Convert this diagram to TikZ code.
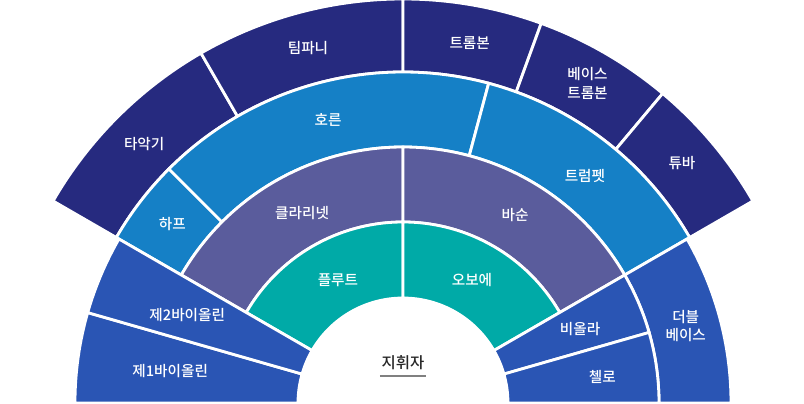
\documentclass[tikz,border=0pt]{standalone}
\usepackage{fontspec}
\setmainfont{Noto Sans CJK KR}
\newfontfamily\medfont{Noto Sans CJK KR Medium}
\definecolor{navy}{RGB}{38,42,127}
\definecolor{brass}{RGB}{21,128,198}
\definecolor{reed}{RGB}{90,92,156}
\definecolor{wind}{RGB}{0,170,167}
\definecolor{strg}{RGB}{42,85,180}
\begin{document}
\begin{tikzpicture}[x=0.025cm,y=0.025cm,seat/.style={draw=white,line width=2pt},lab/.style={text=white,font=\medfont\fontsize{10.4}{13}\selectfont,align=center},boss/.style={text=black!85,font=\medfont\fontsize{11}{12}\selectfont,inner sep=1pt}]
\def\ra{105};
\def\rb{181};
\def\rc{256};
\def\rd{331};
\def\rs{328};
\def\re{404};
\def\sect#1#2#3#4#5{\path[seat,fill=#1] (#2:#4) arc[start angle=#2,end angle=#3,radius=#4] -- (#3:#5) arc[start angle=#3,end angle=#2,radius=#5] -- cycle;}

\useasboundingbox (-403,0) rectangle (401,403);

% outer ring
\sect{navy}{150}{120}{\rd}{\re}
\sect{navy}{120}{90}{\rd}{\re}
\sect{navy}{90}{70}{\rd}{\re}
\sect{navy}{70}{50}{\rd}{\re}
\sect{navy}{50}{30}{\rd}{\re}

% brass ring
\sect{brass}{150}{135}{\rc}{\rd}
\sect{brass}{135}{75}{\rc}{\rd}
\sect{brass}{75}{30}{\rc}{\rd}
\sect{strg}{30}{0}{\rc}{\rs}

% reeds
\sect{reed}{150}{90}{\rb}{\rc}
\sect{reed}{90}{30}{\rb}{\rc}

% flutes
\sect{wind}{150}{90}{\ra}{\rb}
\sect{wind}{90}{30}{\ra}{\rb}

% strings
\sect{strg}{180}{164}{\ra}{\rs}
\sect{strg}{164}{150}{\ra}{\rs}
\sect{strg}{30}{16}{\ra}{\rc}
\sect{strg}{16}{0}{\ra}{\rc}

\node[lab] (perc) at (135:366) {타악기};
\node[lab] (timp) at (105:367) {팀파니};
\node[lab] (tromb) at (79.5:366) {트롬본};
\node[lab] (btromb) at (60:369) {베이스\\트롬본};
\node[lab] (tuba) at (40.7:368) {튜바};

\node[lab] (harp) at (142.2:292) {하프};
\node[lab] (horn) at (104.8:293) {호른};
\node[lab] (trump) at (51.3:291) {트럼펫};
\node[lab] (dbass) at (15.2:293) {더블\\베이스};

\node[lab] (clar) at (118:215) {클라리넷};
\node[lab] (bass) at (59.2:219) {바순};
\node[lab] (flute) at (117.9:139) {플루트};
\node[lab] (oboe) at (60.7:141) {오보에};

\node[lab] (vlnb) at (157.8:233) {제2바이올린};
\node[lab] (vlna) at (172.2:235) {제1바이올린};
\node[lab] (viola) at (22.7:192) {비올라};
\node[lab] (cello) at (7.4:201) {첼로};

\node[boss] (cond) at (0,40) {지휘자};
\draw[gray,line width=0.8pt] ([yshift=-3pt]cond.south west) -- ([yshift=-3pt]cond.south east);
\end{tikzpicture}
\end{document}
